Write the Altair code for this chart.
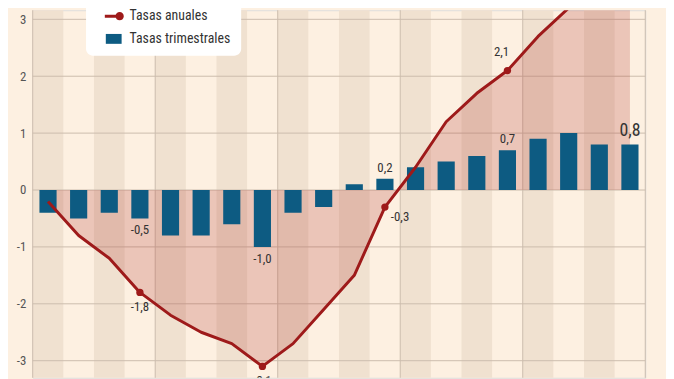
import altair as alt
import pandas as pd

# ---------------- data ----------------
trimestrales = [-0.4, -0.5, -0.4, -0.5, -0.8, -0.8, -0.6, -1.0, -0.4, -0.3,
                0.1, 0.2, 0.4, 0.5, 0.6, 0.7, 0.9, 1.0, 0.8, 0.8]
anuales = [-0.2, -0.8, -1.2, -1.8, -2.2, -2.5, -2.7, -3.1, -2.7, -2.1,
           -1.5, -0.3, 0.4, 1.2, 1.7, 2.1, 2.7, 3.2, 3.4, 3.5]
series = ["Tasas anuales", "Tasas trimestrales"]
y_ticks = [-3, -2, -1, 0, 1, 2, 3]
x_grid = [0, 4, 8, 12, 16, 20]
cierre_anual = [3, 7, 11, 15, 19]

# ---------------- style ----------------
FONT = "Liberation Sans Narrow, Arial Narrow, Roboto Condensed, Roboto, sans-serif"
RED = "#9e1a1a"
BLUE = "#0d5b82"
GRID = "#cbbcad"
BG = "#fdf0e1"
STRIPE = "#f0e1d0"
AREA = "#b03a2e"
TXT = "#333333"

PX = 57.6
Y_MAX = 3.16
Y_MIN = -3.3
W = 620
H = round(PX * (Y_MAX - Y_MIN))

LINE_SYMBOL = ("M-0.1,-0.15H1.05V0.15H-0.1Z "
               "M1.82,0A0.42,0.42,0,1,1,0.98,0A0.42,0.42,0,1,1,1.82,0Z")
BAR_SYMBOL = "M0,-0.5H1.6V0.5H0Z"

n = len(trimestrales)
df = pd.DataFrame({"i": list(range(n)), "trim": trimestrales, "anual": anuales})
df["i1"] = df["i"] + 1
df["c"] = df["i"] + 0.5
df["b0"] = df["i"] + 0.22
df["b1"] = df["i"] + 0.78
df["q4"] = df["i"].isin(cierre_anual)

MINUS = "\u2212"
xs = alt.Scale(domain=[0, n], nice=False, zero=False)
ys = alt.Scale(domain=[Y_MIN, Y_MAX], nice=False, zero=False)
y_axis = alt.Axis(values=y_ticks, title=None, grid=False, ticks=False, tickSize=0,
                  domain=False, labelPadding=7, labelFont=FONT, labelFontSize=13,
                  labelColor="#555555",
                  labelExpr=f"replace(datum.label, '{MINUS}', '-')")


def X(f):
    return alt.X(f, type="quantitative", scale=xs, axis=None)


def Y(f):
    return alt.Y(f, type="quantitative", scale=ys, axis=y_axis)


fmt_trim = f"replace(replace(format(datum.trim, '.1f'), '.', ','), '{MINUS}', '-')"
fmt_anual = f"replace(replace(format(datum.anual, '.1f'), '.', ','), '{MINUS}', '-')"

base = alt.Chart(df).transform_calculate(lt=fmt_trim, la=fmt_anual)

stripes = base.transform_filter("datum.i % 2 == 0").mark_rect(color=STRIPE).encode(
    x=X("i"), x2="i1")

vgrid = alt.Chart(pd.DataFrame({"v": x_grid})).mark_rule(color=GRID, strokeWidth=1).encode(
    x=X("v"))

hgrid = alt.Chart(pd.DataFrame({"v": y_ticks})).mark_rule(color=GRID, strokeWidth=1).encode(
    y=Y("v"))

area = base.mark_area(color=AREA, opacity=0.23, clip=True).encode(
    x=X("c"), y=Y("anual"), y2=alt.datum(0))

bars = base.mark_rect(color=BLUE, clip=True).encode(
    x=X("b0"), x2="b1", y=Y("trim"), y2=alt.datum(0))

line = base.mark_line(color=RED, strokeWidth=3, clip=True, strokeJoin="round").encode(
    x=X("c"), y=Y("anual"))

points = base.transform_filter("datum.q4").mark_circle(
    color=RED, size=55, opacity=1, clip=True).encode(x=X("c"), y=Y("anual"))

txt = dict(font=FONT, fontSize=13, color=TXT, clip=True)

bar_neg = base.transform_filter("datum.q4 && datum.trim < 0").mark_text(
    dy=12, baseline="middle", **txt).encode(x=X("c"), y=Y("trim"), text="lt:N")
bar_pos = base.transform_filter(f"datum.q4 && datum.trim > 0 && datum.i < {n - 1}").mark_text(
    dy=-11, baseline="middle", **txt).encode(x=X("c"), y=Y("trim"), text="lt:N")
bar_last = base.transform_filter(f"datum.i == {n - 1}").mark_text(
    dy=-14, baseline="middle", font=FONT, fontSize=18, color=TXT, clip=True).encode(
    x=X("c"), y=Y("trim"), text="lt:N")

line_low = base.transform_filter("datum.q4 && datum.anual <= -1").mark_text(
    dy=15, baseline="middle", **txt).encode(x=X("c"), y=Y("anual"), text="la:N")
line_mid = base.transform_filter("datum.q4 && datum.anual > -1 && datum.anual < 0").mark_text(
    dx=6, dy=10, align="left", baseline="middle", **txt).encode(x=X("c"), y=Y("anual"), text="la:N")
line_high = base.transform_filter(f"datum.q4 && datum.anual > 0 && datum.anual < {Y_MAX}").mark_text(
    dx=-6, dy=-19, baseline="middle", **txt).encode(x=X("c"), y=Y("anual"), text="la:N")

legend = alt.Legend(title=None, orient="none", legendX=54, legendY=-14, fillColor="white",
                    cornerRadius=7, padding=10, symbolSize=400, symbolStrokeWidth=0,
                    symbolOpacity=1, labelFont=FONT, labelFontSize=14, labelColor=TXT,
                    labelOffset=14, rowPadding=6)

leg = alt.Chart(pd.DataFrame({"serie": series})).transform_filter("false").mark_point(
    filled=True, opacity=1, size=400).encode(
    color=alt.Color("serie:N", scale=alt.Scale(domain=series, range=[RED, BLUE]), legend=legend),
    shape=alt.Shape("serie:N", scale=alt.Scale(domain=series, range=[LINE_SYMBOL, BAR_SYMBOL]),
                    legend=legend))

chart = alt.layer(
    stripes, vgrid, hgrid, area, bars, line, points,
    bar_neg, bar_pos, bar_last, line_low, line_mid, line_high, leg
).properties(
    width=W, height=H,
    autosize=alt.AutoSizeParams(type="none"),
    padding={"left": 25, "top": 0, "right": 21, "bottom": 0},
).configure_view(stroke=None).configure(background=BG)

chart.save("out.html", embed_options={"renderer": "svg", "actions": False})
